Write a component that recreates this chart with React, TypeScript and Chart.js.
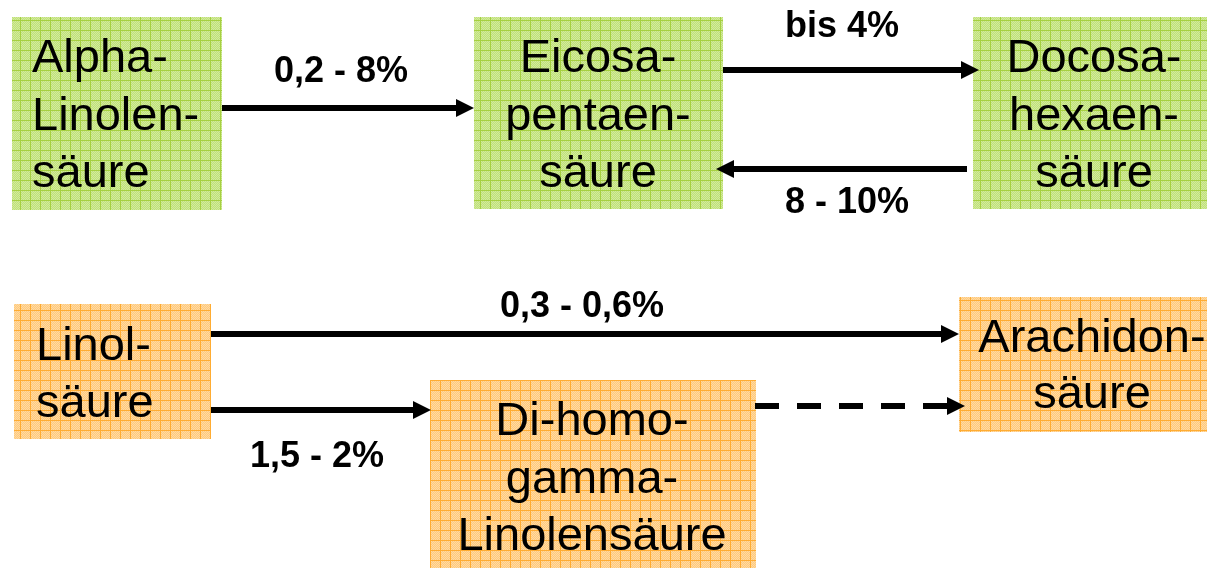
import React, { useEffect, useRef } from "react";
import { Chart, registerables } from "chart.js";

Chart.register(...registerables);

// ---- Data ----
const nodeNames: string[][] = [
  ["Alpha-", "Linolen-", "säure"],
  ["Eicosa-", "pentaen-", "säure"],
  ["Docosa-", "hexaen-", "säure"],
  ["Linol-", "säure"],
  ["Di-homo-", "gamma-", "Linolensäure"],
  ["Arachidon-", "säure"],
];
const nodeGroups = ["omega3", "omega3", "omega3", "omega6", "omega6", "omega6"];
const edgeFrom = [0, 1, 2, 3, 3, 4];
const edgeTo = [1, 2, 1, 5, 4, 5];
const edgeLabels = ["0,2 - 8%", "bis 4%", "8 - 10%", "0,3 - 0,6%", "1,5 - 2%", ""];
const edgeDashed = [false, false, false, false, false, true];

// ---- Layout (diagram coordinates, in axis units) ----
const nodeRect = [
  [12, 17, 222, 210],
  [474, 17, 723, 209],
  [973, 17, 1215, 209],
  [14, 304, 211, 439],
  [430, 380, 756, 570],
  [959, 297, 1225, 432],
];
const nodeAlign = ["left", "center", "center", "left", "center", "center"];
const nodeTextX = [32, 598, 1094, 36, 592, 1092];
const nodeFirstBaseline = [72, 72, 72, 360, 435, 352];
const nodeLineHeight = [57.5, 57.5, 57.5, 57, 57.5, 56];
const edgeGeom = [
  [222, 474, 108],
  [723, 979, 70],
  [967, 716, 169],
  [211, 959, 334],
  [211, 431, 410],
  [755, 965, 406],
];
const edgeLabelPos = [
  [341, 82],
  [842, 37],
  [847, 213],
  [582, 317],
  [317, 467],
  [0, 0],
];

const HEAD_LEN = 18;
const HEAD_HALF = 9;

const groupStyle: Record<string, { base: string; line: string; dot: string }> = {
  omega3: { base: "#c0e07a", line: "#a6d040", dot: "#d2eb9c" },
  omega6: { base: "#ffc97c", line: "#ffac32", dot: "#ffdaa2" },
};

function makePattern(ctx: CanvasRenderingContext2D, g: string) {
  const s = groupStyle[g];
  const c = document.createElement("canvas");
  c.width = 10;
  c.height = 10;
  const p = c.getContext("2d")!;
  p.fillStyle = s.base;
  p.fillRect(0, 0, 10, 10);
  p.fillStyle = s.dot;
  for (let y = 1; y < 10; y++) {
    for (let x = 1; x < 10; x++) {
      if ((x + y) % 2 === 0) p.fillRect(x, y, 1, 1);
    }
  }
  p.fillStyle = s.line;
  p.fillRect(0, 0, 10, 1);
  p.fillRect(0, 0, 1, 10);
  return ctx.createPattern(c, "repeat");
}

const diagramPlugin = {
  id: "diagram",
  beforeDatasetsDraw(chart: any) {
    const { ctx, scales } = chart;
    const xs = scales.x;
    const ys = scales.y;
    ctx.save();
    nodeRect.forEach((r, i) => {
      const x1 = Math.round(xs.getPixelForValue(r[0]));
      const x2 = Math.round(xs.getPixelForValue(r[2]));
      const y1 = Math.round(ys.getPixelForValue(r[1]));
      const y2 = Math.round(ys.getPixelForValue(r[3]));
      const pat = makePattern(ctx, nodeGroups[i]);
      ctx.fillStyle = pat || groupStyle[nodeGroups[i]].base;
      ctx.fillRect(x1, y1, x2 - x1, y2 - y1);
    });
    ctx.restore();
  },
  afterDatasetsDraw(chart: any) {
    const { ctx, scales } = chart;
    const xs = scales.x;
    const ys = scales.y;
    ctx.save();
    // arrowheads
    ctx.fillStyle = "#000";
    edgeGeom.forEach((g) => {
      const tip = xs.getPixelForValue(g[1]);
      const start = xs.getPixelForValue(g[0]);
      const y = ys.getPixelForValue(g[2]);
      const dir = tip > start ? 1 : -1;
      ctx.beginPath();
      ctx.moveTo(tip, y);
      ctx.lineTo(tip - dir * HEAD_LEN, y - HEAD_HALF);
      ctx.lineTo(tip - dir * HEAD_LEN, y + HEAD_HALF);
      ctx.closePath();
      ctx.fill();
    });
    // node texts
    ctx.font = '47px "Liberation Sans", Arial, sans-serif';
    ctx.textBaseline = "alphabetic";
    nodeNames.forEach((lines, i) => {
      ctx.textAlign = nodeAlign[i] as CanvasTextAlign;
      const x = xs.getPixelForValue(nodeTextX[i]);
      lines.forEach((t, k) => {
        const y = ys.getPixelForValue(nodeFirstBaseline[i] + k * nodeLineHeight[i]);
        ctx.fillText(t, x, y);
      });
    });
    // edge labels
    ctx.font = 'bold 36px "Liberation Sans", Arial, sans-serif';
    ctx.textAlign = "center";
    edgeLabels.forEach((t, i) => {
      if (!t) return;
      ctx.fillText(t, xs.getPixelForValue(edgeLabelPos[i][0]), ys.getPixelForValue(edgeLabelPos[i][1]));
    });
    ctx.restore();
  },
};

export default function App() {
  const ref = useRef<HTMLCanvasElement>(null);
  useEffect(() => {
    document.body.style.margin = "0";
    const datasets = edgeFrom.map((f, i) => {
      const g = edgeGeom[i];
      const dir = g[1] > g[0] ? 1 : -1;
      return {
        label: `${nodeNames[f].join("")} → ${nodeNames[edgeTo[i]].join("")}`,
        data: [
          { x: g[0], y: g[2] },
          { x: g[1] - dir * (HEAD_LEN - 1), y: g[2] },
        ],
        showLine: true,
        borderColor: "#000",
        borderWidth: 6,
        borderDash: edgeDashed[i] ? [24, 18] : [],
        borderCapStyle: "butt" as const,
        pointRadius: 0,
        fill: false,
      };
    });
    const chart = new Chart(ref.current!, {
      type: "scatter",
      data: { datasets },
      options: {
        animation: false,
        responsive: false,
        events: [],
        layout: { padding: 0 },
        plugins: { legend: { display: false }, tooltip: { enabled: false } },
        scales: {
          x: { type: "linear", min: 0, max: 1207, display: false },
          y: { type: "linear", min: 0, max: 568, reverse: true, display: false },
        },
      },
      plugins: [diagramPlugin],
    });
    return () => chart.destroy();
  }, []);
  return (
    <div style={{ width: 1207, height: 568, background: "#fff" }}>
      <canvas ref={ref} width={1207} height={568} style={{ display: "block" }} />
    </div>
  );
}
